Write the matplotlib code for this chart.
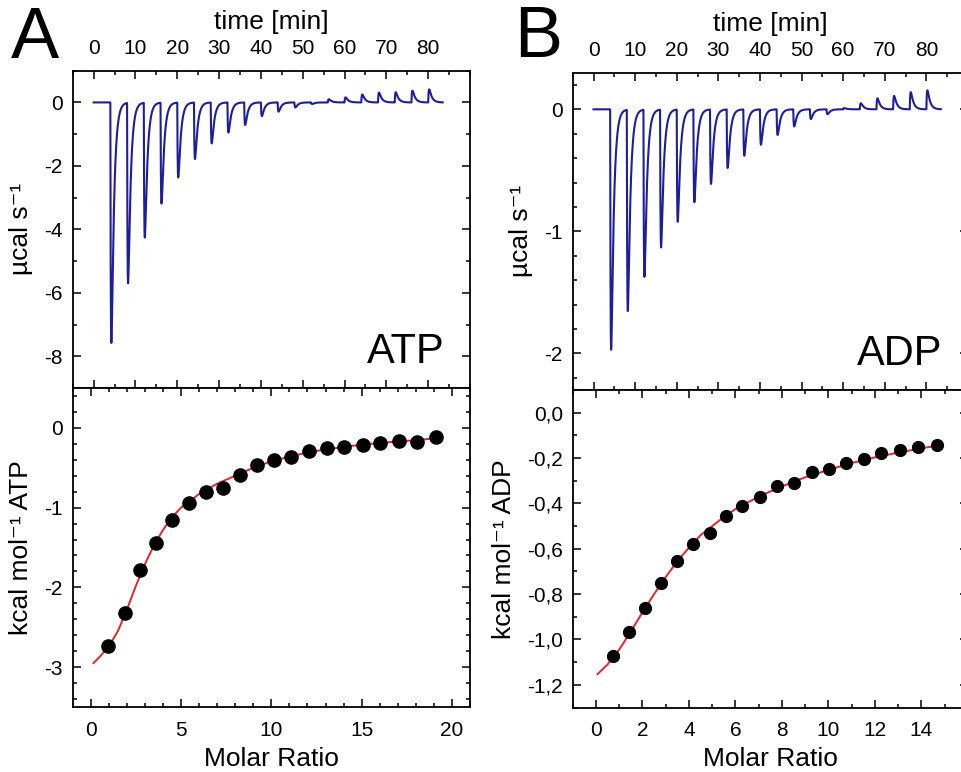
import numpy as np
import matplotlib
matplotlib.use("Agg")
import matplotlib.pyplot as plt
from matplotlib.ticker import MultipleLocator, FixedLocator, FuncFormatter

plt.rcParams['font.family'] = ['Liberation Sans', 'DejaVu Sans']
plt.rcParams['axes.unicode_minus'] = False

# --- raw thermograms (injection time [min], peak height [µcal/s]) ---
inj_time = [4, 8, 12, 16, 20, 24, 28, 32, 36, 40, 44, 48, 52, 56, 60, 64, 68, 72, 76, 80]
atp_peak = [-7.58, -5.69, -4.25, -3.18, -2.36, -1.78, -1.29, -0.95, -0.71, -0.43,
            -0.29, -0.16, -0.05, 0.10, 0.16, 0.25, 0.31, 0.32, 0.37, 0.41]
adp_peak = [-1.97, -1.65, -1.37, -1.13, -0.92, -0.76, -0.61, -0.48, -0.38, -0.29,
            -0.21, -0.14, -0.08, -0.04, 0.01, 0.05, 0.09, 0.11, 0.14, 0.155]

# --- integrated heats ---
atp_ratio = [0.98, 1.87, 2.73, 3.62, 4.51, 5.45, 6.39, 7.31, 8.24, 9.20,
             10.14, 11.10, 12.08, 13.07, 14.05, 15.05, 16.03, 17.05, 18.06, 19.11]
atp_heat = [-2.73, -2.32, -1.78, -1.44, -1.15, -0.94, -0.81, -0.75, -0.59, -0.46,
            -0.40, -0.37, -0.29, -0.25, -0.24, -0.21, -0.19, -0.16, -0.18, -0.11]
adp_ratio = [0.75, 1.44, 2.11, 2.79, 3.48, 4.18, 4.90, 5.60, 6.30, 7.04,
             7.78, 8.51, 9.29, 10.02, 10.76, 11.54, 12.27, 13.06, 13.86, 14.66]
adp_heat = [-1.072, -0.969, -0.861, -0.749, -0.654, -0.577, -0.529, -0.455, -0.411, -0.372,
            -0.323, -0.311, -0.263, -0.250, -0.220, -0.203, -0.179, -0.166, -0.151, -0.141]

# --- fitted curves ---
atp_fit_x = [0.15, 0.5, 1.0, 1.5, 2.0, 2.5, 3.0, 3.5, 4.0, 4.5, 5.0, 6.0, 7.0, 8.0, 9.0,
             10.0, 11.0, 12.0, 13.0, 14.0, 15.0, 16.0, 17.0, 18.0, 19.1]
atp_fit_y = [-2.95, -2.87, -2.74, -2.55, -2.28, -1.98, -1.71, -1.47, -1.28, -1.12, -1.00,
             -0.83, -0.70, -0.60, -0.50, -0.42, -0.36, -0.31, -0.27, -0.24, -0.21, -0.19,
             -0.17, -0.155, -0.13]
adp_fit_x = [0.07, 0.5, 1.0, 1.5, 2.0, 2.5, 3.0, 3.5, 4.0, 4.5, 5.0, 5.5, 6.0, 7.0, 8.0,
             9.0, 10.0, 11.0, 12.0, 13.0, 14.0, 14.7]
adp_fit_y = [-1.153, -1.11, -1.045, -0.965, -0.88, -0.80, -0.725, -0.655, -0.595, -0.54,
             -0.50, -0.46, -0.425, -0.37, -0.325, -0.285, -0.252, -0.222, -0.197, -0.176,
             -0.157, -0.145]

time_ticks = [0, 10, 20, 30, 40, 50, 60, 70, 80]
atp_ratio_ticks = [0, 5, 10, 15, 20]
adp_ratio_ticks = [0, 2, 4, 6, 8, 10, 12, 14]

W, H = 962, 772
fig = plt.figure(figsize=(W / 100, H / 100), dpi=100)


def px_axes(left, top, right, bottom):
    return fig.add_axes([left / W, 1 - bottom / H, (right - left) / W, (bottom - top) / H])


def trace(peaks):
    t = np.arange(0, 83.5, 0.02)
    y = np.zeros_like(t)
    for ti, h in zip(inj_time, peaks):
        dt = t - ti
        m = dt > 0
        s = np.zeros_like(t)
        s[m] = (1 - np.exp(-dt[m] / 0.15)) * np.exp(-dt[m] / 0.6)
        y += h * s / s.max()
    return t, y


def style(ax):
    ax.tick_params(which='both', direction='in', top=True, right=True, labelsize=15,
                   width=1.1, pad=7)
    ax.tick_params(which='major', length=6)
    ax.tick_params(which='minor', length=3)
    for sp in ax.spines.values():
        sp.set_linewidth(1.3)


blue = '#1e1e9c'
red = '#e8232a'
lab = 19


def fmt_int(v, p):
    return "0" if abs(v) < 1e-9 else f"{v:.0f}"


def fmt_comma(v, p):
    if abs(v) < 1e-9:
        v = 0.0
    return f"{v:.1f}".replace('.', ',')


def make_panel(x0, x1, top, mid, bottom, peaks, name, yl_top, ymaj_top, ymin_top,
               ratio, heat, fx, fy, xl_bot, xticks, yl_bot, ymaj, ymin, fmt, ms):
    at = px_axes(x0, top, x1, mid)
    t, y = trace(peaks)
    at.plot(t, y, color=blue, lw=1.5)
    at.set_xlim(-5, 90)
    at.set_ylim(*yl_top)
    at.xaxis.set_major_locator(FixedLocator(time_ticks))
    at.xaxis.set_minor_locator(MultipleLocator(5))
    at.yaxis.set_major_locator(MultipleLocator(ymaj_top))
    at.yaxis.set_minor_locator(MultipleLocator(ymin_top))
    at.yaxis.set_major_formatter(FuncFormatter(fmt_int))
    style(at)
    at.tick_params(labeltop=True, labelbottom=False)
    at.tick_params(axis='x', pad=9)
    at.xaxis.set_label_position('top')
    at.set_xlabel('time [min]', fontsize=lab, labelpad=7)
    at.set_ylabel('µcal s⁻¹', fontsize=lab, labelpad=8)
    at.text(0.935, 0.08, name, transform=at.transAxes, fontsize=30, ha='right', va='baseline')

    ab = px_axes(x0, mid, x1, bottom)
    ab.plot(fx, fy, color=red, lw=1.4, zorder=2)
    ab.plot(ratio, heat, 'o', color='black', ms=ms, zorder=3)
    ab.set_xlim(*xl_bot)
    ab.set_ylim(*yl_bot)
    ab.xaxis.set_major_locator(FixedLocator(xticks))
    ab.xaxis.set_minor_locator(MultipleLocator(1))
    ab.yaxis.set_major_locator(MultipleLocator(ymaj))
    ab.yaxis.set_minor_locator(MultipleLocator(ymin))
    ab.yaxis.set_major_formatter(FuncFormatter(fmt))
    style(ab)
    ab.tick_params(axis='x', pad=10)
    ab.set_xlabel('Molar Ratio', fontsize=lab, labelpad=5)
    ab.set_ylabel('kcal mol⁻¹ ' + name, fontsize=lab, labelpad=8)
    return at, ab


atA, abA = make_panel(72.7, 470, 70.7, 388, 707, atp_peak, 'ATP', (-9, 1), 2, 1,
                      atp_ratio, atp_heat, atp_fit_x, atp_fit_y, (-1, 21), atp_ratio_ticks,
                      (-3.5, 0.5), 1, 0.2, fmt_int, 9.5)
atB, abB = make_panel(572.7, 968, 72.7, 390, 707.5, adp_peak, 'ADP', (-2.3, 0.3), 1, 0.2,
                      adp_ratio, adp_heat, adp_fit_x, adp_fit_y, (-1, 16), adp_ratio_ticks,
                      (-1.3, 0.1), 0.2, 0.1, fmt_comma, 8.5)

fig.text(11 / W, 1 - 58 / H, 'A', fontsize=52, va='baseline')
fig.text(514 / W, 1 - 57 / H, 'B', fontsize=52, va='baseline')

fig.savefig('out.png', dpi=100)
